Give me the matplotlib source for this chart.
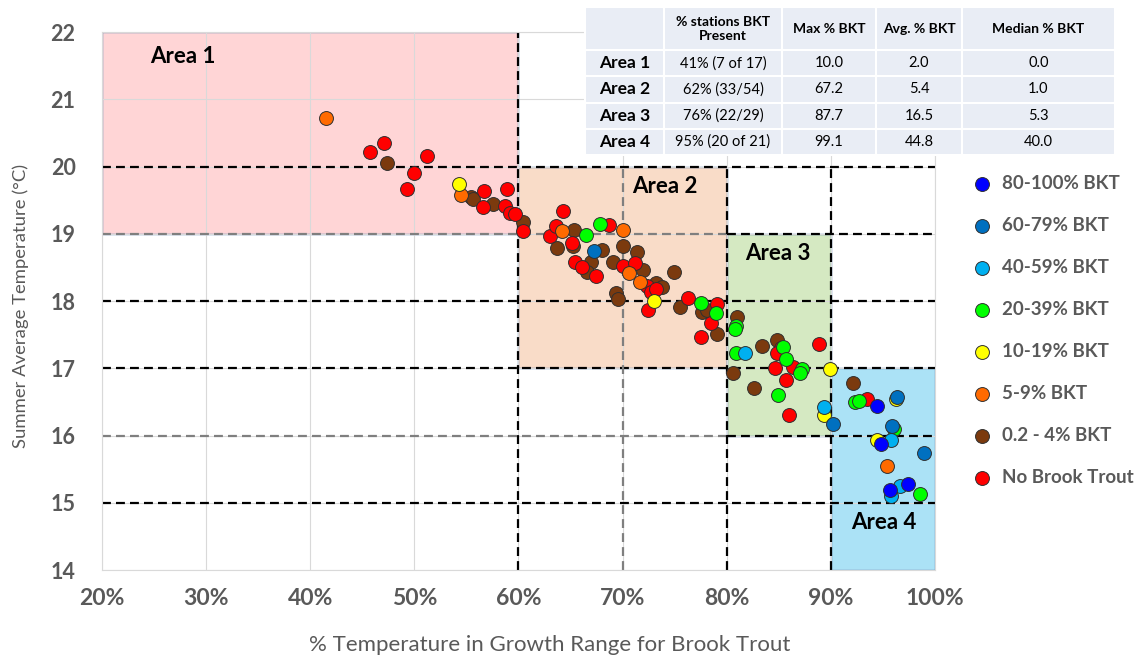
import matplotlib
matplotlib.use('Agg')
import matplotlib.pyplot as plt
from matplotlib.patches import Rectangle

plt.rcParams['font.family'] = ['Lato', 'DejaVu Sans']

# stations: % of summer temps in the growth range, summer average temp (C)
bkt80_x = [94.4, 94.8, 95.7, 97.4]
bkt80_y = [16.44, 15.87, 15.19, 15.28]

bkt60_x = [67.3, 90.2, 96.4, 95.9, 98.9]
bkt60_y = [18.74, 16.17, 16.57, 16.14, 15.74]

bkt40_x = [81.8, 89.3, 95.8, 96.6, 95.8]
bkt40_y = [17.23, 16.42, 15.93, 15.25, 15.10]

bkt20_x = [66.5, 67.8, 77.5, 79.0, 80.9, 80.8, 80.9, 85.4, 85.7, 87.2, 87.0,
           84.9, 92.3, 92.7, 96.1, 98.6]
bkt20_y = [18.98, 19.14, 17.97, 17.82, 17.63, 17.58, 17.23, 17.32, 17.14,
           16.99, 16.93, 16.60, 16.50, 16.51, 16.10, 15.13]

bkt10_x = [54.3, 73.0, 89.9, 89.3, 96.3, 94.4]
bkt10_y = [19.74, 18.00, 16.99, 16.30, 16.54, 15.93]

bkt5_x = [41.5, 54.5, 64.2, 70.0, 70.6, 71.7, 95.4]
bkt5_y = [20.72, 19.58, 19.04, 19.06, 18.42, 18.28, 15.55]

bkt02_x = [47.4, 55.4, 55.6, 57.6, 60.4, 65.3, 65.2, 63.7, 68.0, 70.0, 71.4,
           67.0, 66.6, 69.1, 72.0, 74.9, 73.2, 73.8, 69.4, 69.6, 75.5, 77.6,
           78.1, 79.1, 81.0, 83.4, 84.8, 80.6, 82.6, 92.1]
bkt02_y = [20.05, 19.55, 19.52, 19.44, 19.17, 19.06, 18.82, 18.79, 18.76,
           18.82, 18.73, 18.58, 18.43, 18.58, 18.46, 18.43, 18.27, 18.21,
           18.12, 18.03, 17.91, 17.84, 17.87, 17.51, 17.76, 17.33, 17.42,
           16.93, 16.71, 16.78]

none_x = [47.1, 45.7, 51.2, 50.0, 49.3, 56.7, 58.9, 56.6, 58.7, 59.2, 59.7,
          60.4, 63.0, 63.6, 64.3, 65.1, 68.7, 65.4, 66.1, 67.4, 70.0, 71.2,
          72.3, 72.7, 73.2, 72.4, 76.3, 79.1, 78.5, 77.5, 85.2, 84.8, 88.9,
          84.6, 86.4, 85.7, 86.0, 93.5]
none_y = [20.35, 20.22, 20.16, 19.90, 19.67, 19.64, 19.67, 19.40, 19.41,
          19.31, 19.29, 19.04, 18.97, 19.12, 19.34, 18.86, 19.13, 18.58,
          18.51, 18.37, 18.52, 18.57, 18.22, 18.13, 18.18, 17.87, 18.04,
          17.96, 17.67, 17.46, 17.30, 17.23, 17.36, 17.00, 17.02, 16.83,
          16.30, 16.54]

# areas: name, x range, y range
area_names = ['Area 1', 'Area 2', 'Area 3', 'Area 4']
area_x = [(20, 60), (60, 80), (80, 90), (90, 100)]
area_y = [(19, 22), (17, 20), (16, 19), (14, 17)]

table_head = ['', '% stations BKT\nPresent', 'Max % BKT', 'Avg. % BKT', 'Median % BKT']
table_rows = [
    ['Area 1', '41% (7 of 17)', '10.0', '2.0', '0.0'],
    ['Area 2', '62% (33/54)', '67.2', '5.4', '1.0'],
    ['Area 3', '76% (22/29)', '87.7', '16.5', '5.3'],
    ['Area 4', '95% (20 of 21)', '99.1', '44.8', '40.0'],
]

fig = plt.figure(figsize=(11.43, 6.58), dpi=100)
ax = fig.add_axes([0.0892, 0.1337, 0.7288, 0.8176])

area_colors = ['#FFD5D6', '#F9DCC8', '#D5E9C2', '#ABE2F6']
label_pos = [(27.8, 21.63), (74.1, 19.70), (84.9, 18.71), (95.1, 14.70)]
for name, (x0, x1), (y0, y1), c, (lx, ly) in zip(area_names, area_x, area_y,
                                                  area_colors, label_pos):
    ax.add_patch(Rectangle((x0, y0), x1 - x0, y1 - y0, facecolor=c,
                           edgecolor='#5A82B8', lw=1.0, zorder=0.2))
    ax.text(lx, ly, name, ha='center', va='center', fontsize=16,
            fontweight='bold', color='black', zorder=4)

# dashed boundary lines
dash = (0, (4, 2.3))
ax.hlines([20, 18, 17, 15], 20, 100, colors='black', lw=1.6, linestyles=dash, zorder=2)
ax.hlines([19, 16], 20, 80, colors='#7F7F7F', lw=1.6, linestyles=dash, zorder=2)
ax.hlines([19, 16], 80, 100, colors='black', lw=1.6, linestyles=dash, zorder=2)
ax.vlines([60], 14, 22, colors='black', lw=1.6, linestyles=dash, zorder=2)
ax.vlines([70], 14, 20, colors='#7F7F7F', lw=1.6, linestyles=dash, zorder=2)
ax.vlines([80, 90], 14, 20, colors='black', lw=1.6, linestyles=dash, zorder=2)

series = [
    ('0.2 - 4% BKT', '#7B3A0E', bkt02_x, bkt02_y),
    ('No Brook Trout', '#FF0000', none_x, none_y),
    ('5-9% BKT', '#FF6A00', bkt5_x, bkt5_y),
    ('10-19% BKT', '#FFFF00', bkt10_x, bkt10_y),
    ('20-39% BKT', '#00FF00', bkt20_x, bkt20_y),
    ('40-59% BKT', '#00B0F0', bkt40_x, bkt40_y),
    ('60-79% BKT', '#0070C0', bkt60_x, bkt60_y),
    ('80-100% BKT', '#0000FF', bkt80_x, bkt80_y),
]
handles = {}
for label, color, xs, ys in series:
    handles[label] = ax.scatter(xs, ys, s=100, c=color, edgecolors='#303030',
                                linewidths=0.7, zorder=3, label=label)

ax.set_xlim(20, 100)
ax.set_ylim(14, 22)
ax.set_xticks(range(20, 101, 10))
ax.set_xticklabels([f'{v}%' for v in range(20, 101, 10)])
ax.set_yticks(range(14, 23))
ax.tick_params(length=0, labelcolor='#595959')
ax.tick_params(axis='y', pad=19, labelsize=15.5)
ax.tick_params(axis='x', pad=13, labelsize=16.5)
for t in ax.get_xticklabels() + ax.get_yticklabels():
    t.set_fontweight('bold')
ax.grid(color='#D9D9D9', lw=0.8)
ax.set_axisbelow(True)
for sp in ax.spines.values():
    sp.set_color('#D9D9D9')

ax.set_xlabel('% Temperature in Growth Range for Brook Trout', fontsize=16,
              color='#595959')
ax.set_ylabel('Summer Average Temperature (°C)', fontsize=13.3, color='#595959')
ax.xaxis.set_label_coords(0.537, -0.12)
ax.yaxis.set_label_coords(-0.087, 0.49)

order = ['80-100% BKT', '60-79% BKT', '40-59% BKT', '20-39% BKT', '10-19% BKT',
         '5-9% BKT', '0.2 - 4% BKT', 'No Brook Trout']
leg = ax.legend([handles[k] for k in order], order, loc='upper left',
                bbox_to_anchor=(0.853, 0.734), bbox_transform=fig.transFigure,
                frameon=False, fontsize=13.5, labelspacing=1.33, handlelength=0.8,
                handletextpad=0.65, borderpad=0, borderaxespad=0, scatterpoints=1)
for t in leg.get_texts():
    t.set_color('#595959')
    t.set_fontweight('bold')

# summary table
tax = fig.add_axes([0.5118, 0.7644, 0.4637, 0.2249])
tax.axis('off')
tbl = tax.table(cellText=table_rows, colLabels=table_head, bbox=[0, 0, 1, 1],
                cellLoc='center')
tbl.auto_set_font_size(False)
col_w = [79, 118, 94, 86, 153]
for (r, c), cell in tbl.get_celld().items():
    cell.set_facecolor('#E9EDF5')
    cell.set_edgecolor('white')
    cell.set_linewidth(1.5)
    cell.set_width(col_w[c])
    cell.set_height(43 if r == 0 else 26.2)
    txt = cell.get_text()
    if r == 0:
        txt.set_fontsize(10)
        txt.set_fontweight('bold')
    elif c == 0:
        txt.set_fontsize(12.5)
        txt.set_fontweight('bold')
    else:
        txt.set_fontsize(10.5)

fig.savefig('out.png', dpi=100)
